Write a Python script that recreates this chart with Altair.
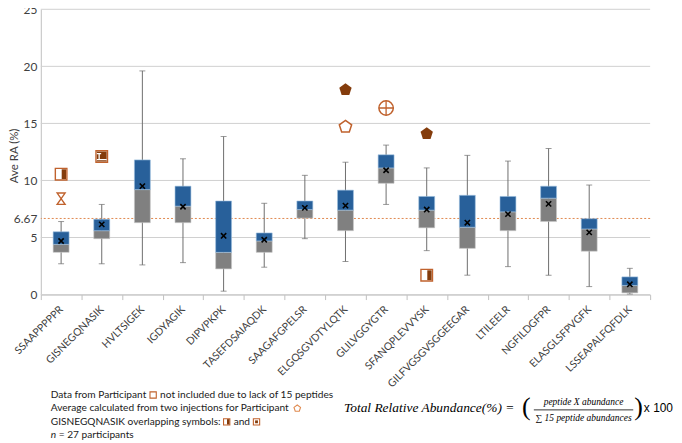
import altair as alt
import pandas as pd

peptides = ["SSAAPPPPPR", "GISNEGQNASIK", "HVLTSIGEK", "IGDYAGIK", "DIPVPKPK",
            "TASEFDSAIAQDK", "SAAGAFGPELSR", "ELGQSGVDTYLQTK", "GLILVGGYGTR",
            "SFANQPLEVVYSK", "GILFVGSGVSGGEEGAR", "LTILEELR", "NGFILDGFPR",
            "ELASGLSFPVGFK", "LSSEAPALFQFDLK"]
whisker_low = [2.7, 2.7, 2.6, 2.8, 0.3, 2.4, 4.9, 2.9, 7.9, 3.85, 1.7, 2.45, 1.7, 0.7, 0.05]
q1 = [3.7, 4.9, 6.3, 6.3, 2.25, 3.7, 6.7, 5.6, 9.75, 5.85, 4.05, 5.6, 6.4, 3.8, 0.15]
median = [4.4, 5.6, 9.2, 7.75, 3.7, 4.7, 7.45, 7.4, 11.1, 7.4, 5.9, 7.25, 8.45, 5.75, 0.8]
q3 = [5.5, 6.6, 11.8, 9.5, 8.2, 5.4, 8.2, 9.15, 12.25, 8.6, 8.7, 8.6, 9.5, 6.65, 1.55]
whisker_high = [6.4, 7.9, 19.6, 11.9, 13.85, 8.0, 10.45, 11.6, 13.1, 11.1, 12.2, 11.7, 12.8, 9.6, 2.3]
mean = [4.7, 6.15, 9.5, 7.7, 5.15, 4.8, 7.6, 7.8, 10.9, 7.45, 6.3, 7.05, 7.95, 5.45, 0.9]

sym_peptide = ["SSAAPPPPPR", "SSAAPPPPPR", "GISNEGQNASIK", "ELGQSGVDTYLQTK",
               "ELGQSGVDTYLQTK", "GLILVGGYGTR", "SFANQPLEVVYSK", "SFANQPLEVVYSK"]
sym_value = [10.55, 8.4, 12.1, 17.95, 14.7, 16.35, 14.1, 1.7]
sym_kind = ["half", "hourglass", "overlap", "pent_filled", "pent_open", "crosscircle",
            "pent_filled", "half"]

grid_values = [0, 5, 10, 15, 20, 25]
y_ticks = [0, 5, 6.67, 10, 15, 20, 25]
ref_value = [6.67]

df = pd.DataFrame({"peptide": peptides, "lo": whisker_low, "q1": q1, "med": median,
                   "q3": q3, "hi": whisker_high, "mean": mean})
sdf = pd.DataFrame({"peptide": sym_peptide, "value": sym_value, "kind": sym_kind})
gdf = pd.DataFrame({"g": grid_values})
rdf = pd.DataFrame({"r": ref_value})

W, H = 613, 287
PL, PT = 41, 8  # page position of plot origin
TOTAL_W, TOTAL_H = 670, 434

BLUE = "#28609A"
GREY = "#808080"
DARK = "#843C0C"
OUTL = "#C0622D"
FONT = "Lato"

xs = alt.X("peptide:N", sort=peptides, title=None,
           scale=alt.Scale(paddingInner=0, paddingOuter=0),
           axis=alt.Axis(labelAngle=-45, labelAlign="right", labelBaseline="middle",
                         labelPadding=8, tickBand="extent", tickSize=5,
                         tickColor="#BFBFBF", domainColor="#BFBFBF",
                         labelFont=FONT, labelFontSize=10.5, labelColor="#404040",
                         grid=False, labelOverlap=False))
yscale = alt.Scale(domain=[0, 25], nice=False)
yaxis = alt.Axis(values=y_ticks, format=".3~g", grid=False, ticks=False,
                 domainColor="#BFBFBF",
                 labelFont=FONT, labelFontSize=12, labelColor="#404040",
                 labelPadding=4, title="Ave RA (%)", titleFont=FONT,
                 titleFontSize=11.5, titleFontWeight="normal", titleColor="#404040",
                 titleX=15 - PL, titleY=155 - PT, titleAngle=-90,
                 titleAlign="center", titleBaseline="middle")

base = alt.Chart(df)

grid = alt.Chart(gdf).mark_rule(color="#D0D0D0", strokeWidth=1).encode(
    y=alt.Y("g:Q", scale=yscale, axis=yaxis))

whisk = base.mark_rule(color="#6E6E6E", strokeWidth=1).encode(
    x=xs, y=alt.Y("lo:Q", scale=yscale), y2="hi:Q")
cap_hi = base.mark_tick(color="#6E6E6E", size=6, thickness=1).encode(
    x=xs, y=alt.Y("hi:Q", scale=yscale))
cap_lo = base.mark_tick(color="#6E6E6E", size=6, thickness=1).encode(
    x=xs, y=alt.Y("lo:Q", scale=yscale))
box_lo = base.mark_bar(size=16, color=GREY, stroke="#C8C8C8", strokeWidth=0.6).encode(
    x=xs, y=alt.Y("q1:Q", scale=yscale), y2="med:Q")
box_hi = base.mark_bar(size=16, color=BLUE, stroke="#9CBEDF", strokeWidth=0.6).encode(
    x=xs, y=alt.Y("med:Q", scale=yscale), y2="q3:Q")

refline = alt.Chart(rdf).mark_rule(color="#E0884F", strokeDash=[2, 2], strokeWidth=1).encode(
    y=alt.Y("r:Q", scale=yscale))

XSHAPE = "M-1,-1L1,1M-1,1L1,-1"
means = base.mark_point(shape=XSHAPE, size=28, stroke="black", strokeWidth=1.6,
                        filled=False, opacity=1).encode(
    x=xs, y=alt.Y("mean:Q", scale=yscale))

SQUARE = "M-1,-1H1V1H-1Z"
RIGHTHALF = "M0.1,-0.85H0.85V0.85H0.1Z"
INNER = "M-0.85,-0.85H0.85V0.85H-0.85Z"
PENT = "M0,-1L0.951,-0.309L0.588,0.809L-0.588,0.809L-0.951,-0.309Z"
HOUR = "M-0.7,-1L0.7,-1L-0.7,1L0.7,1Z"
CROSS = "M-1,0L1,0M0,-1L0,1"
WHITE_L = "M-0.85,-0.5H-0.1M-0.45,-0.5V0.55M-0.85,0.55H0.85"


def symlayer(kinds, shape, size, fill=None, stroke=None, sw=1.3):
    kw = dict(shape=shape, size=size, opacity=1)
    if fill is not None:
        kw.update(filled=True, fill=fill, fillOpacity=1)
    else:
        kw.update(filled=False, fill="white", fillOpacity=0)
    if stroke is not None:
        kw.update(stroke=stroke, strokeWidth=sw, strokeOpacity=1)
    else:
        kw.update(strokeWidth=0)
    return alt.Chart(sdf).transform_filter(
        alt.FieldOneOfPredicate(field="kind", oneOf=kinds)).mark_point(**kw).encode(
        x=xs, y=alt.Y("value:Q", scale=yscale))


syms = [
    symlayer(["half", "overlap"], SQUARE, 135, fill="white", stroke=OUTL, sw=1.4),
    symlayer(["half"], RIGHTHALF, 135, fill=DARK),
    symlayer(["overlap"], INNER, 135, fill=DARK),
    symlayer(["overlap"], WHITE_L, 135, stroke="white", sw=1.3),
    symlayer(["hourglass"], HOUR, 130, stroke=OUTL, sw=1.4),
    symlayer(["pent_filled"], PENT, 170, fill=DARK),
    symlayer(["pent_open"], PENT, 170, fill="white", stroke=OUTL, sw=1.5),
    symlayer(["crosscircle"], "circle", 210, fill="white", stroke=OUTL, sw=1.5),
    symlayer(["crosscircle"], CROSS, 210, stroke=OUTL, sw=1.3),
]

one = pd.DataFrame({"a": [0]})


def txt(t, x, y, size=10.2, font=FONT, style="normal", align="left", color="#1A1A1A"):
    return alt.Chart(one).mark_text(text=t, align=align, baseline="middle", font=font,
                                    fontSize=size, fontStyle=style, color=color).encode(
        x=alt.value(x - PL), y=alt.value(y - PT))


def icon(shape, x, y, size, fill=None, stroke=None, sw=1.2):
    kw = dict(shape=shape, size=size, opacity=1)
    if fill is not None:
        kw.update(filled=True, fill=fill, fillOpacity=1)
    else:
        kw.update(filled=False, fillOpacity=0)
    if stroke is not None:
        kw.update(stroke=stroke, strokeWidth=sw, strokeOpacity=1)
    else:
        kw.update(strokeWidth=0)
    return alt.Chart(one).mark_point(**kw).encode(
        x=alt.value(x - PL), y=alt.value(y - PT))


SERIF = "Liberation Serif"
L1, L2, L3, L4 = 396, 409.5, 423, 436
notes = [
    txt("Data from Participant", 51, L1),
    icon(SQUARE, 154, L1, 40, fill="white", stroke=OUTL, sw=1.1),
    txt("not included due to lack of 15 peptides", 161, L1),
    txt("Average calculated from two injections for Participant", 51, L2),
    icon(PENT, 299, L2, 48, fill="white", stroke="#E08A4F", sw=1.1),
    txt("GISNEGQNASIK overlapping symbols:", 51, L3),
    icon(SQUARE, 228, L3, 40, fill="white", stroke=OUTL, sw=1.1),
    icon(RIGHTHALF, 228, L3, 40, fill=DARK),
    txt("and", 235, L3),
    icon(SQUARE, 258, L3, 40, fill="white", stroke=OUTL, sw=1.1),
    icon("M-0.45,-0.45H0.45V0.45H-0.45Z", 258, L3, 40, fill=DARK),
    txt("n", 51, L4, style="italic"),
    txt("= 27 participants", 59, L4),
    # formula
    txt("Total Relative Abundance(%) = ", 346, 409, size=13.5, font=SERIF,
        style="italic", color="#000000"),
    txt("(", 525, 408, size=26, font=SERIF, color="#000000"),
    txt("peptide X abundance", 587, 403, size=9.5, font=SERIF, style="italic",
        align="center", color="#000000"),
    txt("\u2211 15 peptide abundances", 587, 419, size=9.5, font=SERIF,
        style="italic", align="center", color="#000000"),
    alt.Chart(one).mark_rule(color="#000000", strokeWidth=0.8).encode(
        x=alt.value(537 - PL), x2=alt.value(637 - PL), y=alt.value(411 - PT)),
    txt(")", 638, 408, size=26, font=SERIF, color="#000000"),
    txt("x 100", 677, 409, size=12, font="Liberation Sans", align="right",
        color="#000000"),
]

chart = alt.layer(grid, refline, whisk, cap_hi, cap_lo, box_lo, box_hi, means,
                  *syms, *notes).properties(
    width=W, height=H,
    autosize=alt.AutoSizeParams(type="none"),
    padding={"left": PL - 8, "top": PT - 8, "right": TOTAL_W - (PL - 8) - W,
             "bottom": TOTAL_H - (PT - 8) - H},
    background="white",
).configure_view(stroke=None)

chart.save("out.html", embed_options={"renderer": "svg", "actions": False})
